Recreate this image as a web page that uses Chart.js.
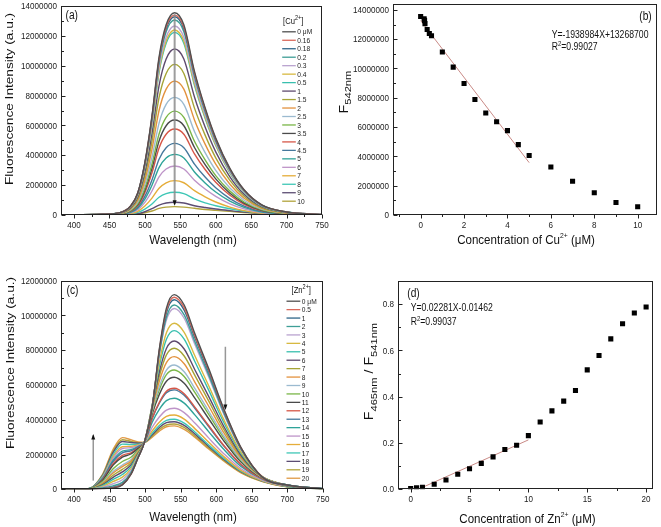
<!DOCTYPE html>
<html><head><meta charset="utf-8">
<script src="https://cdn.jsdelivr.net/npm/chart.js@4.4.1/dist/chart.umd.min.js"></script>
<style>
html,body{margin:0;padding:0;background:#fff;width:661px;height:527px;overflow:hidden}
canvas{position:absolute}
</style></head><body>
<canvas id="ca" style="left:0;top:0" width="330" height="260"></canvas>
<canvas id="cb" style="left:330px;top:0" width="331" height="260"></canvas>
<canvas id="cc" style="left:0;top:260px" width="330" height="267"></canvas>
<canvas id="cd" style="left:330px;top:260px" width="331" height="267"></canvas>
<script>
const FONT = '"Liberation Sans", Arial, Helvetica, sans-serif';

// ---------- data (intensities in units of 10^6 a.u.) ----------
const palette = ['#505050','#d9685a','#2f6689','#3e9e96','#b9a3cf','#d7b941','#38bfae','#5e4a6e','#a6a436','#e3923e','#9bbad0','#7ab648','#4a4a4a','#d65748','#45789c','#2fa399','#be94c8','#e5ad3a','#3fc7b6','#5c4d73','#b2a33c','#e09a45'];

const cuLegend = ['0 μM','0.16','0.18','0.2','0.3','0.4','0.5','1','1.5','2','2.5','3','3.5','4','4.5','5','6','7','8','9','10'];
const cuConc = [0,0.16,0.18,0.2,0.3,0.4,0.5,1,1.5,2,2.5,3,3.5,4,4.5,5,6,7,8,9,10];
const cuF542 = [13.55,13.39,13.28,13.06,12.66,12.39,12.23,11.12,10.09,8.97,7.88,6.96,6.36,5.76,4.80,4.06,3.28,2.30,1.52,0.85,0.56];
const cuFitSlope = -1938984, cuFitIntercept = 13268700, cuFitRange = [0, 5];

const wlCu = [380,440,465,480,490,500,510,520,530,542,555,570,585,600,620,640,665,700,750];
const cuSpectra = [
 [0,0.05,0.16,0.61,1.49,3.52,6.64,10.57,12.74,13.55,12.74,9.62,7.18,5.15,3.12,1.69,0.68,0.20,0.03],
 [0,0.05,0.16,0.60,1.47,3.48,6.56,10.44,12.59,13.39,12.59,9.51,7.10,5.09,3.08,1.67,0.67,0.20,0.03],
 [0,0.05,0.16,0.60,1.46,3.45,6.51,10.36,12.48,13.28,12.48,9.43,7.04,5.05,3.05,1.66,0.66,0.20,0.03],
 [0,0.05,0.16,0.59,1.44,3.40,6.40,10.19,12.28,13.06,12.28,9.27,6.92,4.96,3.00,1.63,0.65,0.20,0.03],
 [0,0.05,0.15,0.57,1.39,3.29,6.20,9.87,11.90,12.66,11.90,8.99,6.71,4.81,2.91,1.58,0.63,0.19,0.03],
 [0,0.05,0.15,0.56,1.36,3.22,6.07,9.66,11.65,12.39,11.65,8.80,6.57,4.71,2.85,1.55,0.62,0.19,0.02],
 [0,0.05,0.15,0.55,1.35,3.18,5.99,9.54,11.50,12.23,11.50,8.68,6.48,4.65,2.81,1.53,0.61,0.18,0.02],
 [0,0.04,0.13,0.50,1.22,2.89,5.45,8.67,10.45,11.12,10.45,7.90,5.89,4.23,2.56,1.39,0.56,0.17,0.02],
 [0,0.04,0.12,0.45,1.11,2.62,4.94,7.87,9.48,10.09,9.48,7.16,5.35,3.83,2.32,1.26,0.50,0.15,0.02],
 [0,0.04,0.11,0.40,0.99,2.33,4.40,7.00,8.43,8.97,8.43,6.37,4.75,3.41,2.06,1.12,0.45,0.13,0.02],
 [0,0.03,0.09,0.35,0.87,2.05,3.86,6.15,7.41,7.88,7.41,5.59,4.18,2.99,1.81,0.99,0.39,0.12,0.02],
 [0,0.03,0.08,0.31,0.77,1.81,3.41,5.43,6.54,6.96,6.54,4.94,3.69,2.64,1.60,0.87,0.35,0.10,0.01],
 [0,0.03,0.08,0.29,0.70,1.65,3.12,4.96,5.98,6.36,5.98,4.52,3.37,2.42,1.46,0.80,0.32,0.10,0.01],
 [0,0.02,0.07,0.26,0.63,1.50,2.82,4.49,5.41,5.76,5.41,4.09,3.05,2.19,1.32,0.72,0.29,0.09,0.01],
 [0,0.02,0.06,0.22,0.53,1.25,2.35,3.74,4.51,4.80,4.51,3.41,2.54,1.82,1.10,0.60,0.24,0.07,0.01],
 [0,0.02,0.05,0.18,0.45,1.06,1.99,3.17,3.82,4.06,3.82,2.88,2.15,1.54,0.93,0.51,0.20,0.06,0.01],
 [0,0.01,0.04,0.15,0.36,0.85,1.61,2.56,3.08,3.28,3.08,2.33,1.74,1.25,0.75,0.41,0.16,0.05,0.01],
 [0,0.01,0.03,0.10,0.25,0.60,1.13,1.79,2.16,2.30,2.16,1.63,1.22,0.87,0.53,0.29,0.12,0.03,0],
 [0,0.01,0.02,0.07,0.17,0.40,0.74,1.19,1.43,1.52,1.43,1.08,0.81,0.62,0.42,0.26,0.12,0.04,0],
 [0,0,0.01,0.04,0.09,0.22,0.42,0.66,0.80,0.85,0.80,0.62,0.50,0.40,0.29,0.19,0.10,0.04,0],
 [0,0,0.01,0.03,0.06,0.15,0.27,0.44,0.53,0.56,0.53,0.45,0.37,0.31,0.24,0.17,0.10,0.04,0.01]
];

const znLegend = ['0 μM','0.5','1','2','3','4','5','6','7','8','9','10','11','12','13','14','15','16','17','18','19','20'];
const znConc = [0,0.5,1,2,3,4,5,6,7,8,9,10,11,12,13,14,15,16,17,18,19,20];
const znRatio = [0.003,0.006,0.009,0.022,0.040,0.065,0.089,0.112,0.140,0.172,0.190,0.232,0.291,0.339,0.381,0.427,0.516,0.578,0.650,0.715,0.762,0.788];
const znFitSlope = 0.02281, znFitIntercept = -0.01462, znFitRange = [1, 10];

const wlZn = [380,420,440,455,468,480,490,499,510,520,530,541,555,570,590,610,635,665,700,750];
const znSpectra = [
 [0,0,0.03,0.08,0.25,0.85,1.80,2.70,4.70,8.06,10.42,11.20,10.60,8.96,6.90,4.70,2.40,0.70,0.25,0.03],
 [0,0,0.04,0.10,0.27,0.86,1.81,2.70,4.73,8.00,10.29,11.05,10.45,8.84,6.81,4.65,2.38,0.71,0.24,0.03],
 [0,0,0.04,0.12,0.30,0.89,1.82,2.70,4.75,7.94,10.16,10.90,10.31,8.73,6.72,4.59,2.35,0.71,0.25,0.03],
 [0,0,0.08,0.20,0.40,0.96,1.85,2.70,4.79,7.80,9.90,10.60,10.03,8.50,6.54,4.48,2.31,0.71,0.25,0.03],
 [0,0,0.12,0.32,0.55,1.07,1.90,2.70,4.81,7.71,9.73,10.40,9.84,8.34,6.42,4.40,2.28,0.72,0.25,0.03],
 [0,0,0.17,0.45,0.70,1.18,1.95,2.70,4.85,7.30,9.00,9.55,9.03,7.68,5.91,4.08,2.14,0.73,0.25,0.03],
 [0,0.01,0.21,0.57,0.85,1.29,2.00,2.70,4.84,7.08,8.63,9.13,8.64,7.35,5.66,3.91,2.07,0.72,0.25,0.03],
 [0,0.01,0.26,0.69,1.00,1.40,2.05,2.70,4.79,6.75,8.10,8.53,8.07,6.88,5.30,3.68,1.96,0.72,0.25,0.03],
 [0,0.01,0.30,0.81,1.15,1.51,2.10,2.70,4.74,6.50,7.73,8.11,7.67,6.55,5.04,3.50,1.89,0.71,0.24,0.03],
 [0,0.01,0.35,0.94,1.30,1.62,2.16,2.70,4.65,6.22,7.29,7.63,7.22,6.17,4.75,3.31,1.80,0.69,0.24,0.03],
 [0,0.01,0.38,1.02,1.40,1.70,2.19,2.70,4.53,5.91,6.86,7.15,6.76,5.80,4.46,3.12,1.71,0.68,0.23,0.03],
 [0,0.01,0.44,1.18,1.60,1.84,2.26,2.70,4.46,5.73,6.60,6.86,6.49,5.57,4.28,3.00,1.65,0.67,0.23,0.03],
 [0,0.02,0.51,1.39,1.85,2.03,2.34,2.70,4.33,5.46,6.22,6.45,6.10,5.24,4.03,2.83,1.57,0.65,0.22,0.03],
 [0,0.02,0.54,1.47,1.95,2.10,2.38,2.70,4.10,5.01,5.64,5.81,5.50,4.73,3.64,2.56,1.43,0.61,0.21,0.03],
 [0,0.02,0.59,1.59,2.10,2.21,2.43,2.70,4.06,4.95,5.55,5.72,5.41,4.66,3.58,2.53,1.41,0.61,0.21,0.03],
 [0,0.02,0.62,1.67,2.20,2.28,2.46,2.70,3.86,4.60,5.10,5.24,4.96,4.28,3.29,2.33,1.31,0.58,0.19,0.02],
 [0,0.02,0.66,1.79,2.35,2.39,2.51,2.70,3.57,4.16,4.56,4.66,4.41,3.81,2.93,2.08,1.18,0.53,0.18,0.02],
 [0,0.02,0.69,1.88,2.45,2.47,2.55,2.70,3.36,3.86,4.19,4.27,4.04,3.49,2.69,1.91,1.09,0.50,0.17,0.02],
 [0,0.03,0.74,1.99,2.60,2.58,2.59,2.70,3.22,3.67,3.96,4.03,3.81,3.30,2.53,1.81,1.04,0.48,0.16,0.02],
 [0,0.03,0.78,2.12,2.75,2.69,2.65,2.70,3.14,3.56,3.83,3.89,3.68,3.19,2.45,1.75,1.01,0.47,0.16,0.02],
 [0,0.03,0.81,2.20,2.85,2.76,2.68,2.70,3.06,3.45,3.70,3.76,3.56,3.08,2.37,1.69,0.98,0.46,0.15,0.02],
 [0,0.03,0.85,2.30,2.97,2.85,2.72,2.70,3.00,3.35,3.60,3.65,3.45,3.00,2.30,1.65,0.95,0.45,0.15,0.02]
];

// tick values
const wlMajor = [400,450,500,550,600,650,700,750];
const wlMinor = [425,475,525,575,625,675,725];
const intMajor14 = [0,2,4,6,8,10,12,14];
const intMinor14 = [1,3,5,7,9,11,13];
const intMajor12 = [0,2,4,6,8,10,12];
const intMinor12 = [1,3,5,7,9,11];
const cuXMajor = [0,2,4,6,8,10];
const cuXMinor = [-1,1,3,5,7,9];
const znXMajor = [0,5,10,15,20];
const znXMinor = [2.5,7.5,12.5,17.5];
const ratioMajor = [0,0.2,0.4,0.6,0.8];
const ratioMinor = [0.1,0.3,0.5,0.7];

const fmtMillion = v => String(Math.round(v * 1e6));
const fmtInt = v => String(v);
const fmt1 = v => v.toFixed(1);

// horizontal squeeze of glyphs (the reference figure is slightly compressed horizontally)
const SQ = 0.85;

// ---------- helpers ----------
function rich(ctx, parts, x, y, align, rot, base, sx) {
  ctx.save();
  ctx.translate(x, y);
  if (rot) ctx.rotate(rot);
  ctx.scale(sx || 1, 1);
  let w = 0;
  for (const p of parts) { ctx.font = p.s + 'px ' + FONT; p.w = ctx.measureText(p.t).width; w += p.w; }
  let cx = align === 'center' ? -w / 2 : (align === 'right' ? -w : 0);
  ctx.textBaseline = 'alphabetic';
  ctx.fillStyle = '#111';
  const by = 0.36 * base;
  for (const p of parts) { ctx.font = p.s + 'px ' + FONT; ctx.fillText(p.t, cx, by + (p.dy || 0)); cx += p.w; }
  ctx.restore();
}
function label(ctx, t, x, y, size, align) {
  ctx.save();
  ctx.translate(x, y);
  ctx.scale(SQ, 1);
  ctx.font = size + 'px ' + FONT;
  ctx.textAlign = align; ctx.textBaseline = 'middle'; ctx.fillStyle = '#222';
  ctx.fillText(t, 0, 0.5);
  ctx.restore();
}
function frameTicks(c, X, Y) {
  const ctx = c.ctx, a = c.chartArea, xs = c.scales.x, ys = c.scales.y;
  ctx.save();
  ctx.strokeStyle = '#222'; ctx.lineWidth = 1;
  const L = Math.round(a.left) + 0.5, R = Math.round(a.right) - 0.5, T = Math.round(a.top) + 0.5, B = Math.round(a.bottom) - 0.5;
  ctx.strokeRect(L, T, R - L, B - T);
  ctx.beginPath();
  for (const v of X.major) { const px = Math.round(xs.getPixelForValue(v)) + 0.5; ctx.moveTo(px, B); ctx.lineTo(px, B + 4); }
  for (const v of X.minor) { const px = Math.round(xs.getPixelForValue(v)) + 0.5; ctx.moveTo(px, B); ctx.lineTo(px, B + 2.5); }
  for (const v of Y.major) { const py = Math.round(ys.getPixelForValue(v)) + 0.5; ctx.moveTo(L, py); ctx.lineTo(L + 4, py); }
  for (const v of Y.minor) { const py = Math.round(ys.getPixelForValue(v)) + 0.5; ctx.moveTo(L, py); ctx.lineTo(L + 2.5, py); }
  ctx.stroke();
  ctx.restore();
  for (const v of X.major) label(ctx, X.fmt(v), xs.getPixelForValue(v), B + 10.5, 9.5, 'center');
  for (const v of Y.major) label(ctx, Y.fmt(v), L - 4.5, ys.getPixelForValue(v), 9.5, 'right');
}
function legend(ctx, labels, colors, x0, x1, y0, dy, size) {
  labels.forEach((t, i) => {
    const y = y0 + i * dy;
    ctx.save();
    ctx.strokeStyle = colors[i]; ctx.lineWidth = 1.3;
    ctx.beginPath(); ctx.moveTo(x0, y); ctx.lineTo(x1, y); ctx.stroke();
    ctx.restore();
    label(ctx, t, x1 + 1.5, y, size, 'left');
  });
}
function arrow(ctx, x, y0, y1, color, w) {
  ctx.save();
  ctx.strokeStyle = color; ctx.lineWidth = w;
  ctx.beginPath(); ctx.moveTo(x, y0); ctx.lineTo(x, y1); ctx.stroke();
  const d = y1 > y0 ? 1 : -1;
  ctx.fillStyle = '#111';
  ctx.beginPath(); ctx.moveTo(x, y1 + d * 1.5); ctx.lineTo(x - 2, y1 - d * 4); ctx.lineTo(x + 2, y1 - d * 4); ctx.closePath(); ctx.fill();
  ctx.restore();
}
function spectraSets(wl, rows, colors) {
  return rows.map((r, i) => ({
    data: r.map((v, j) => ({ x: wl[j], y: v })),
    borderColor: colors[i], borderWidth: 1.4, pointRadius: 0,
    cubicInterpolationMode: 'monotone', fill: false
  }));
}
function makeChart(id, box, plot, type, datasets, X, Y, deco) {
  return new Chart(document.getElementById(id), {
    type, data: { datasets },
    options: {
      responsive: false, animation: false, events: [],
      layout: { padding: { left: 0, top: plot.t - box.t, right: box.l + box.w - plot.r, bottom: 0 } },
      plugins: { legend: { display: false }, tooltip: { enabled: false } },
      scales: {
        x: {
          type: 'linear', min: X.min, max: X.max,
          afterBuildTicks: s => { s.ticks = X.major.map(v => ({ value: v })); },
          afterFit: s => { s.height = box.t + box.h - plot.b; s.paddingLeft = 0; s.paddingRight = 0; s.paddingTop = 0; s.paddingBottom = 0; },
          grid: { display: false, drawTicks: false }, border: { display: false },
          ticks: { display: false, callback: X.fmt }
        },
        y: {
          type: 'linear', min: Y.min, max: Y.max,
          afterBuildTicks: s => { s.ticks = Y.major.map(v => ({ value: v })); },
          afterFit: s => { s.width = plot.l - box.l; s.paddingLeft = 0; s.paddingRight = 0; s.paddingTop = 0; s.paddingBottom = 0; },
          grid: { display: false, drawTicks: false }, border: { display: false },
          ticks: { display: false, callback: Y.fmt }
        }
      }
    },
    plugins: [{ id: 'deco' + id, afterDraw: c => { frameTicks(c, X, Y); deco(c); } }]
  });
}
const SUP = s => ({ t: s, s: 8, dy: -5.5 });
const ROT = -Math.PI / 2, VST = 1 / SQ;

// ---------- (a) ----------
makeChart('ca', { l: 0, t: 0, w: 330, h: 260 }, { l: 61, r: 322, t: 6, b: 215 }, 'line',
  spectraSets(wlCu, cuSpectra, palette),
  { min: 381.6, max: 750, major: wlMajor, minor: wlMinor, fmt: fmtInt },
  { min: 0, max: 14, major: intMajor14, minor: intMinor14, fmt: fmtMillion },
  c => {
    const ctx = c.ctx, xs = c.scales.x, ys = c.scales.y;
    arrow(ctx, xs.getPixelForValue(542), ys.getPixelForValue(13.45), ys.getPixelForValue(0.72), 'rgba(140,140,140,0.85)', 2);
    rich(ctx, [{ t: 'Fluorescence Intensity (a.u.)', s: 11.6 }], 8.5, 99, 'center', ROT, 11.6, VST);
    rich(ctx, [{ t: 'Wavelength (nm)', s: 13.6 }], 193, 239, 'center', 0, 13.6, SQ);
    rich(ctx, [{ t: '(a)', s: 12 }], 65.5, 15, 'left', 0, 12, SQ);
    rich(ctx, [{ t: '[Cu', s: 9 }, { t: '2+', s: 6.5, dy: -4 }, { t: ']', s: 9 }], 283, 21, 'left', 0, 9, SQ);
    legend(ctx, cuLegend, palette, 282.2, 295.8, 31.8, 8.47, 7.8);
  });

// ---------- (b) ----------
makeChart('cb', { l: 330, t: 0, w: 331, h: 260 }, { l: 393.3, r: 657.7, t: 0, b: 215 }, 'scatter',
  [
    { data: cuConc.map((x, i) => ({ x, y: cuF542[i] })), pointStyle: 'rect', pointRadius: 3.6, backgroundColor: '#000', borderWidth: 0, showLine: false },
    { data: cuFitRange.map(x => ({ x, y: (cuFitSlope * x + cuFitIntercept) / 1e6 })), showLine: true, pointRadius: 0, borderColor: '#c98a86', borderWidth: 1 }
  ],
  { min: -1.26, max: 10.89, major: cuXMajor, minor: cuXMinor, fmt: fmtInt },
  { min: 0, max: 14.4, major: intMajor14, minor: intMinor14, fmt: fmtMillion },
  c => {
    const ctx = c.ctx;
    rich(ctx, [{ t: 'F', s: 12 }, { t: '542nm', s: 9.5, dy: 3.5 }], 13.5, 92, 'center', ROT, 12, VST);
    rich(ctx, [{ t: 'Concentration of Cu', s: 13.6 }, SUP('2+'), { t: ' (μM)', s: 13.6 }], 196, 239, 'center', 0, 13.6, SQ);
    rich(ctx, [{ t: '(b)', s: 12 }], 321.7, 16, 'right', 0, 12, SQ);
    rich(ctx, [{ t: 'Y=-1938984X+13268700', s: 10.2 }], 221.7, 34, 'left', 0, 10.2, SQ);
    rich(ctx, [{ t: 'R', s: 10.2 }, { t: '2', s: 7, dy: -4 }, { t: '=0.99027', s: 10.2 }], 221.7, 46.5, 'left', 0, 10.2, SQ);
  });

// ---------- (c) ----------
makeChart('cc', { l: 0, t: 260, w: 330, h: 267 }, { l: 61, r: 322.7, t: 280.7, b: 489.3 }, 'line',
  spectraSets(wlZn, znSpectra, palette),
  { min: 381.6, max: 750, major: wlMajor, minor: wlMinor, fmt: fmtInt },
  { min: 0, max: 12, major: intMajor12, minor: intMinor12, fmt: fmtMillion },
  c => {
    const ctx = c.ctx, xs = c.scales.x, ys = c.scales.y;
    arrow(ctx, xs.getPixelForValue(613), ys.getPixelForValue(8.2), ys.getPixelForValue(4.65), 'rgba(140,140,140,0.9)', 1.5);
    arrow(ctx, xs.getPixelForValue(427), ys.getPixelForValue(0.5), ys.getPixelForValue(3.1), 'rgba(140,140,140,0.9)', 1.5);
    rich(ctx, [{ t: 'Fluorescence Intensity (a.u.)', s: 11.6 }], 10, 103, 'center', ROT, 11.6, VST);
    rich(ctx, [{ t: 'Wavelength (nm)', s: 13.6 }], 193, 256.5, 'center', 0, 13.6, SQ);
    rich(ctx, [{ t: '(c)', s: 12 }], 66.5, 29.3, 'left', 0, 12, SQ);
    rich(ctx, [{ t: '[Zn', s: 9 }, { t: '2+', s: 6.5, dy: -4 }, { t: ']', s: 9 }], 291.5, 29.3, 'left', 0, 9, SQ);
    legend(ctx, znLegend, palette, 286.5, 300.3, 41.2, 8.43, 7.8);
  });

// ---------- (d) ----------
makeChart('cd', { l: 330, t: 260, w: 331, h: 267 }, { l: 398.3, r: 652.7, t: 281, b: 489.3 }, 'scatter',
  [
    { data: znConc.map((x, i) => ({ x, y: znRatio[i] })), pointStyle: 'rect', pointRadius: 3.6, backgroundColor: '#000', borderWidth: 0, showLine: false },
    { data: znFitRange.map(x => ({ x, y: znFitSlope * x + znFitIntercept })), showLine: true, pointRadius: 0, borderColor: '#c98a86', borderWidth: 1 }
  ],
  { min: -1.05, max: 20.56, major: znXMajor, minor: znXMinor, fmt: fmtInt },
  { min: 0, max: 0.9, major: ratioMajor, minor: ratioMinor, fmt: fmt1 },
  c => {
    const ctx = c.ctx;
    rich(ctx, [{ t: 'F', s: 12 }, { t: '465nm', s: 9.5, dy: 3.5 }, { t: ' / F', s: 12 }, { t: '541nm', s: 9.5, dy: 3.5 }], 39, 111.5, 'center', ROT, 12, VST);
    rich(ctx, [{ t: 'Concentration of Zn', s: 13.6 }, SUP('2+'), { t: ' (μM)', s: 13.6 }], 197.5, 258, 'center', 0, 13.6, SQ);
    rich(ctx, [{ t: '(d)', s: 12 }], 77.3, 32.3, 'left', 0, 12, SQ);
    rich(ctx, [{ t: 'Y=0.02281X-0.01462', s: 10.2 }], 80.7, 47.7, 'left', 0, 10.2, SQ);
    rich(ctx, [{ t: 'R', s: 10.2 }, { t: '2', s: 7, dy: -4 }, { t: '=0.99037', s: 10.2 }], 80.7, 61.7, 'left', 0, 10.2, SQ);
  });
</script>
</body></html>
